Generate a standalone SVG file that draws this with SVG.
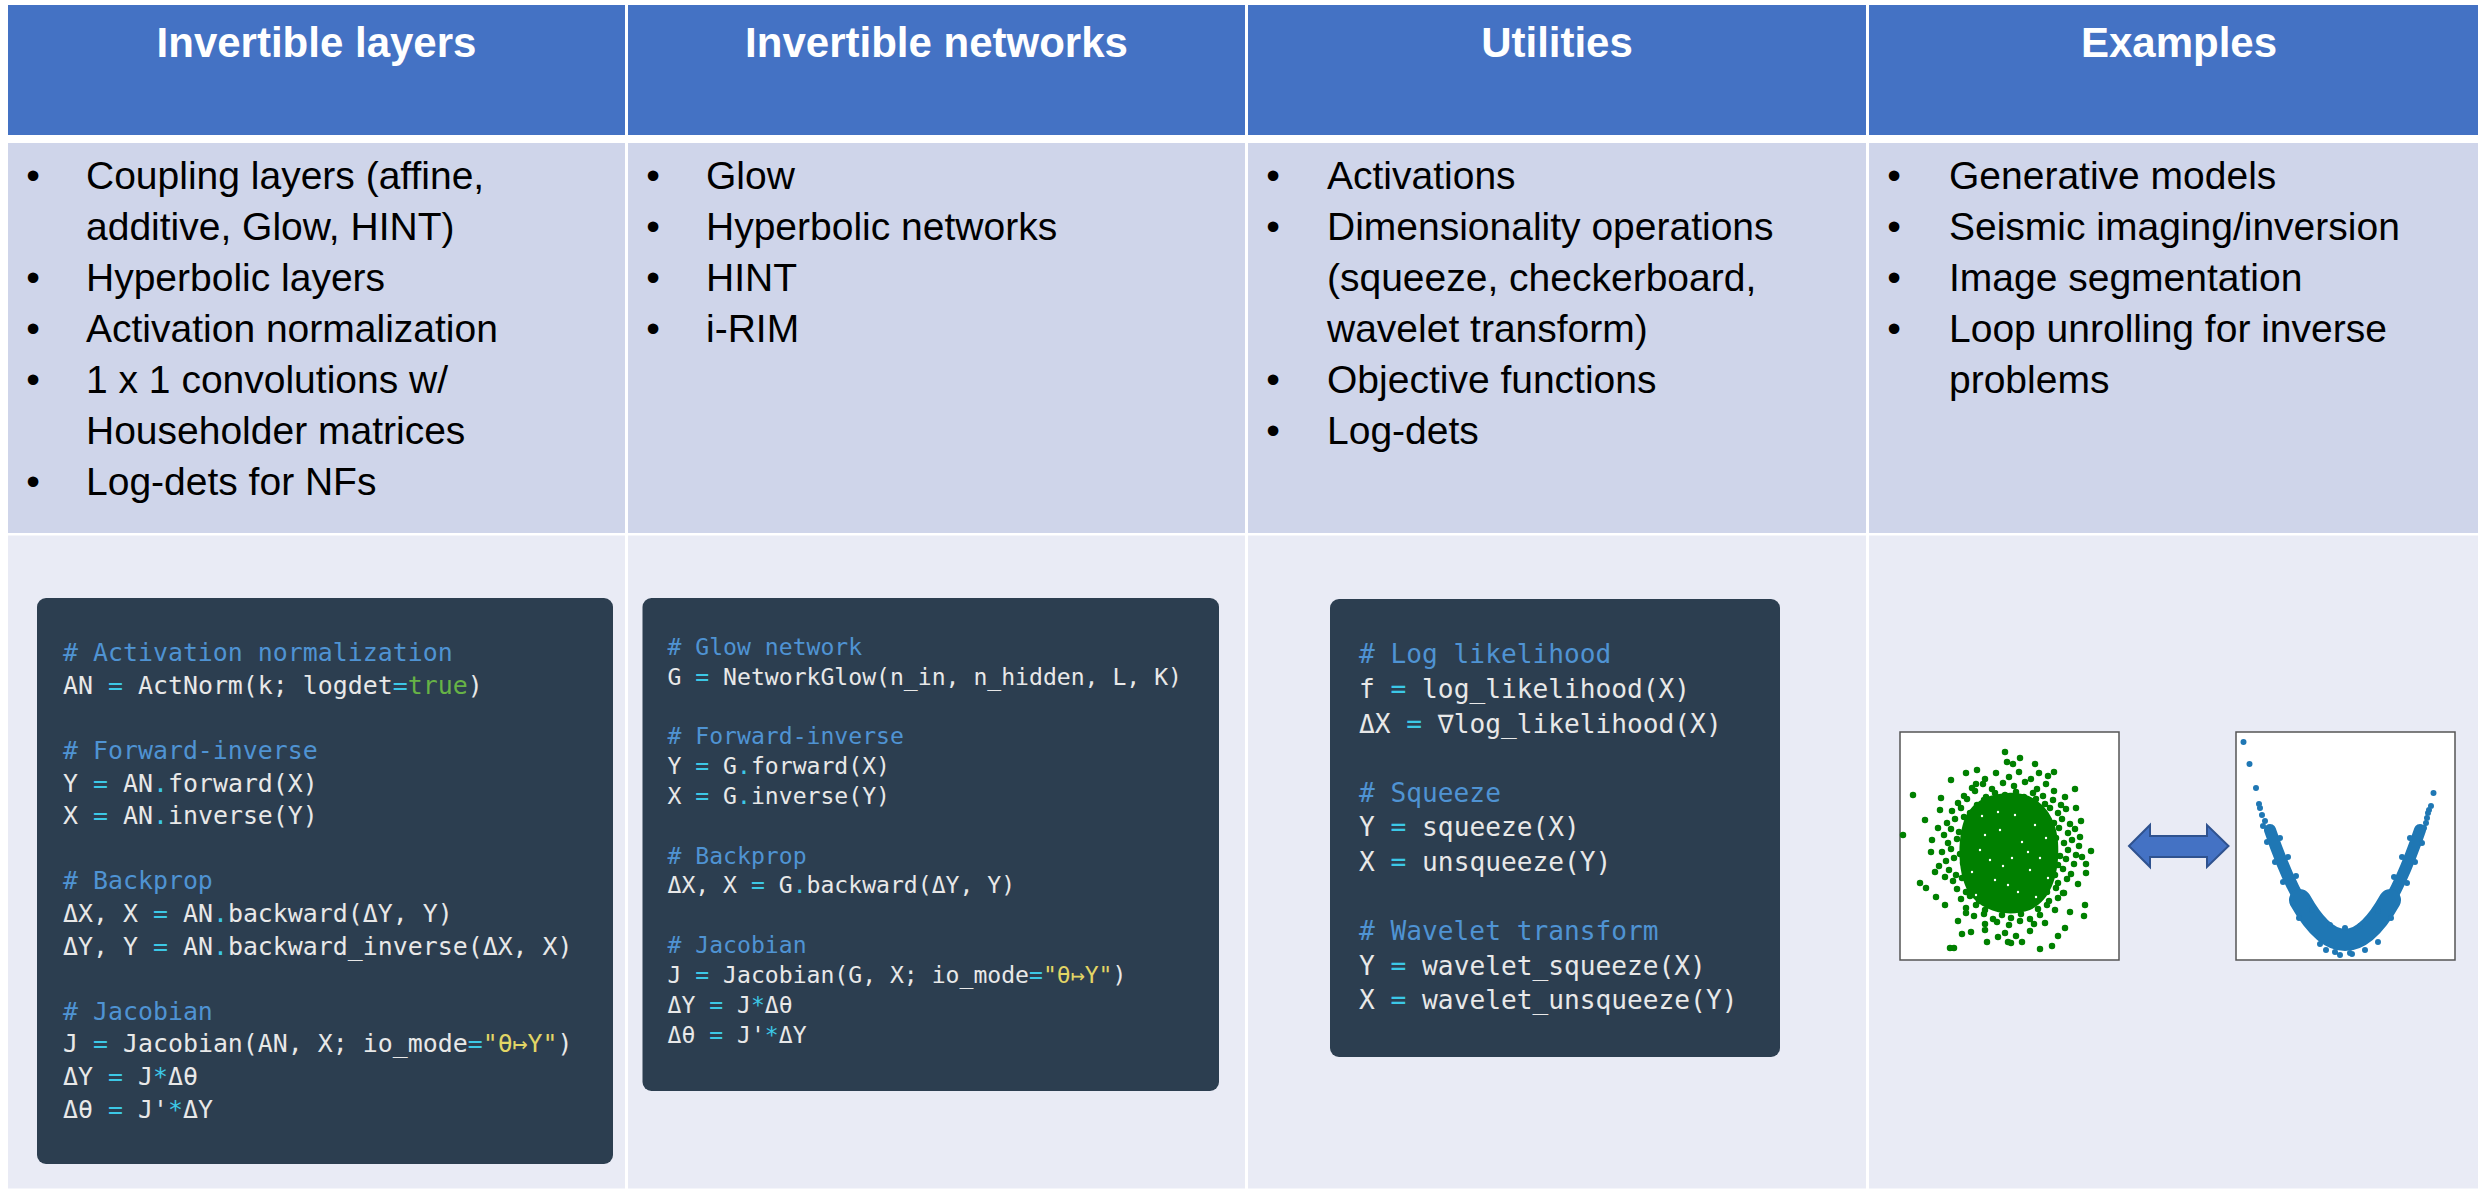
<svg xmlns="http://www.w3.org/2000/svg" width="2478" height="1189" viewBox="0 0 2478 1189">
<style>
.hdr{fill:#4472C4}
.bod{fill:#CFD5EA}
.low{fill:#E9EBF5}
.h{font-family:"Liberation Sans",Arial,sans-serif;font-weight:bold;font-size:42px;fill:#FFFFFF;text-anchor:middle}
.t{font-family:"Liberation Sans",Arial,sans-serif;font-size:39px;fill:#000000}
.b{font-family:"Liberation Sans",Arial,sans-serif;font-size:39px;fill:#000000;text-anchor:middle}
.box{fill:#2C3E50}
.c{font-family:"DejaVu Sans Mono",monospace;fill:#E8E8E8}
.cm{fill:#4F93D3}
.op{fill:#3CC8E6}
.kw{fill:#67B346}
.st{fill:#E2D565}
.frame{fill:#FFFFFF;stroke:#555555;stroke-width:1.5}
.dots{fill:none;stroke-linecap:round}
</style>
<rect width="2478" height="1189" fill="#FFFFFF"/>

<g id="col1">
<rect class="hdr" x="8" y="5" width="617" height="130"/>
<rect class="bod" x="8" y="143" width="617" height="390"/>
<rect class="low" x="8" y="535.5" width="617" height="653"/>
<text class="h" x="316.5" y="57">Invertible layers</text>
<text class="b" x="33" y="189">•</text><text class="t" x="86" y="189">Coupling layers (affine,</text>
<text class="t" x="86" y="240">additive, Glow, HINT)</text>
<text class="b" x="33" y="291">•</text><text class="t" x="86" y="291">Hyperbolic layers</text>
<text class="b" x="33" y="342">•</text><text class="t" x="86" y="342">Activation normalization</text>
<text class="b" x="33" y="393">•</text><text class="t" x="86" y="393">1 x 1 convolutions w/</text>
<text class="t" x="86" y="444">Householder matrices</text>
<text class="b" x="33" y="495">•</text><text class="t" x="86" y="495">Log-dets for NFs</text>
</g>

<g id="col2">
<rect class="hdr" x="628" y="5" width="617" height="130"/>
<rect class="bod" x="628" y="143" width="617" height="390"/>
<rect class="low" x="628" y="535.5" width="617" height="653"/>
<text class="h" x="936.5" y="57">Invertible networks</text>
<text class="b" x="653" y="189">•</text><text class="t" x="706" y="189">Glow</text>
<text class="b" x="653" y="240">•</text><text class="t" x="706" y="240">Hyperbolic networks</text>
<text class="b" x="653" y="291">•</text><text class="t" x="706" y="291">HINT</text>
<text class="b" x="653" y="342">•</text><text class="t" x="706" y="342">i-RIM</text>
</g>

<g id="col3">
<rect class="hdr" x="1248" y="5" width="618" height="130"/>
<rect class="bod" x="1248" y="143" width="618" height="390"/>
<rect class="low" x="1248" y="535.5" width="618" height="653"/>
<text class="h" x="1557" y="57">Utilities</text>
<text class="b" x="1273" y="189">•</text><text class="t" x="1327" y="189">Activations</text>
<text class="b" x="1273" y="240">•</text><text class="t" x="1327" y="240">Dimensionality operations</text>
<text class="t" x="1327" y="291">(squeeze, checkerboard,</text>
<text class="t" x="1327" y="342">wavelet transform)</text>
<text class="b" x="1273" y="393">•</text><text class="t" x="1327" y="393">Objective functions</text>
<text class="b" x="1273" y="444">•</text><text class="t" x="1327" y="444">Log-dets</text>
</g>

<g id="col4">
<rect class="hdr" x="1869" y="5" width="609" height="130"/>
<rect class="bod" x="1869" y="143" width="609" height="390"/>
<rect class="low" x="1869" y="535.5" width="609" height="653"/>
<text class="h" x="2179" y="57">Examples</text>
<text class="b" x="1894" y="189">•</text><text class="t" x="1949" y="189">Generative models</text>
<text class="b" x="1894" y="240">•</text><text class="t" x="1949" y="240">Seismic imaging/inversion</text>
<text class="b" x="1894" y="291">•</text><text class="t" x="1949" y="291">Image segmentation</text>
<text class="b" x="1894" y="342">•</text><text class="t" x="1949" y="342">Loop unrolling for inverse</text>
<text class="t" x="1949" y="393">problems</text>
</g>

<g id="code1">
<rect class="box" x="37" y="598" width="576" height="566" rx="9"/>
<g class="c" font-size="24.9">
<text x="63" y="661.1" class="cm"># Activation normalization</text>
<text x="63" y="693.7">AN <tspan class="op">=</tspan> ActNorm(k; logdet<tspan class="op">=</tspan><tspan class="kw">true</tspan>)</text>
<text x="63" y="758.9" class="cm"># Forward-inverse</text>
<text x="63" y="791.5">Y <tspan class="op">=</tspan> AN<tspan class="op">.</tspan>forward(X)</text>
<text x="63" y="824.1">X <tspan class="op">=</tspan> AN<tspan class="op">.</tspan>inverse(Y)</text>
<text x="63" y="889.3" class="cm"># Backprop</text>
<text x="63" y="921.9">ΔX, X <tspan class="op">=</tspan> AN<tspan class="op">.</tspan>backward(ΔY, Y)</text>
<text x="63" y="954.5">ΔY, Y <tspan class="op">=</tspan> AN<tspan class="op">.</tspan>backward_inverse(ΔX, X)</text>
<text x="63" y="1019.7" class="cm"># Jacobian</text>
<text x="63" y="1052.3">J <tspan class="op">=</tspan> Jacobian(AN, X; io_mode<tspan class="op">=</tspan><tspan class="st">"θ↦Y"</tspan>)</text>
<text x="63" y="1084.9">ΔY <tspan class="op">=</tspan> J<tspan class="op">*</tspan>Δθ</text>
<text x="63" y="1117.5">Δθ <tspan class="op">=</tspan> J'<tspan class="op">*</tspan>ΔY</text>
</g>
</g>

<g id="code2">
<rect class="box" x="642.5" y="598" width="576.5" height="493" rx="9"/>
<g class="c" font-size="23.1">
<text x="667.5" y="654.6" class="cm"># Glow network</text>
<text x="667.5" y="684.5">G <tspan class="op">=</tspan> NetworkGlow(n_in, n_hidden, L, K)</text>
<text x="667.5" y="744.2" class="cm"># Forward-inverse</text>
<text x="667.5" y="774">Y <tspan class="op">=</tspan> G<tspan class="op">.</tspan>forward(X)</text>
<text x="667.5" y="803.9">X <tspan class="op">=</tspan> G<tspan class="op">.</tspan>inverse(Y)</text>
<text x="667.5" y="863.6" class="cm"># Backprop</text>
<text x="667.5" y="893.4">ΔX, X <tspan class="op">=</tspan> G<tspan class="op">.</tspan>backward(ΔY, Y)</text>
<text x="667.5" y="953.1" class="cm"># Jacobian</text>
<text x="667.5" y="983">J <tspan class="op">=</tspan> Jacobian(G, X; io_mode<tspan class="op">=</tspan><tspan class="st">"θ↦Y"</tspan>)</text>
<text x="667.5" y="1012.8">ΔY <tspan class="op">=</tspan> J<tspan class="op">*</tspan>Δθ</text>
<text x="667.5" y="1042.7">Δθ <tspan class="op">=</tspan> J'<tspan class="op">*</tspan>ΔY</text>
</g>
</g>

<g id="code3">
<rect class="box" x="1330" y="599" width="450" height="458" rx="9"/>
<g class="c" font-size="26.2">
<text x="1359" y="663.3" class="cm"># Log likelihood</text>
<text x="1359" y="697.9">f <tspan class="op">=</tspan> log_likelihood(X)</text>
<text x="1359" y="732.5">ΔX <tspan class="op">=</tspan> ∇log_likelihood(X)</text>
<text x="1359" y="801.7" class="cm"># Squeeze</text>
<text x="1359" y="836.3">Y <tspan class="op">=</tspan> squeeze(X)</text>
<text x="1359" y="870.9">X <tspan class="op">=</tspan> unsqueeze(Y)</text>
<text x="1359" y="940.1" class="cm"># Wavelet transform</text>
<text x="1359" y="974.7">Y <tspan class="op">=</tspan> wavelet_squeeze(X)</text>
<text x="1359" y="1009.3">X <tspan class="op">=</tspan> wavelet_unsqueeze(Y)</text>
</g>
</g>

<g id="plot-gaussian">
<rect class="frame" x="1900" y="732" width="219" height="228"/>
<path d="M2008 793C2036 791 2056 812 2058 842C2060 872 2052 900 2030 910C2008 918 1982 912 1969 893C1957 874 1957 838 1965 818C1973 801 1988 794 2008 793Z" fill="#008000"/>
<path class="dots" stroke="#008000" stroke-width="6.5" d="M1985 779h0M1996 773h0M2009 777h0M2019 772h0M2031 779h0M1972 788h0M1983 784h0M1992 789h0M2003 783h0M2014 786h0M2025 782h0M2037 789h0M2046 784h0M1964 796h0M1975 791h0M1986 797h0M1995 793h0M2005 795h0M2016 792h0M2024 797h0M2033 793h0M2043 796h0M2054 791h0M1958 803h0M1967 799h0M1977 805h0M1984 800h0M1993 804h0M2002 801h0M2011 806h0M2019 800h0M2028 805h0M2036 799h0M2045 804h0M2053 800h0M2061 805h0M1952 811h0M1961 808h0M1970 813h0M1980 809h0M1988 812h0M2032 810h0M2041 814h0M2050 808h0M2058 813h0M2066 809h0M1955 819h0M1947 823h0M1964 817h0M1973 822h0M1982 818h0M2038 820h0M2046 816h0M2054 823h0M2062 819h0M2070 824h0M1951 829h0M1944 835h0M1959 832h0M1968 828h0M1976 834h0M2043 830h0M2051 835h0M2059 828h0M2068 833h0M2075 829h0M1948 843h0M1957 839h0M1965 845h0M1973 841h0M2048 844h0M2056 838h0M2064 843h0M2072 840h0M2079 846h0M1942 852h0M1951 849h0M1960 854h0M1968 850h0M2052 852h0M2060 856h0M2068 850h0M2076 855h0M1946 861h0M1954 858h0M1963 863h0M1971 859h0M2050 861h0M2058 865h0M2066 859h0M2074 864h0M1949 870h0M1956 875h0M1965 869h0M1974 873h0M2046 870h0M2055 875h0M2063 869h0M2071 874h0M1953 881h0M1962 878h0M1970 884h0M1979 879h0M2041 882h0M2049 877h0M2058 883h0M2067 879h0M1957 889h0M1966 892h0M1975 887h0M1984 891h0M1992 888h0M2030 890h0M2039 886h0M2047 892h0M2056 888h0M2063 893h0M1961 899h0M1970 896h0M1979 901h0M1988 897h0M1997 900h0M2005 895h0M2013 901h0M2022 897h0M2031 900h0M2040 896h0M2049 901h0M2058 898h0M1966 908h0M1976 905h0M1985 910h0M1994 906h0M2003 909h0M2012 905h0M2020 910h0M2029 906h0M2038 909h0M2047 905h0M2055 910h0M1974 916h0M1984 914h0M1993 919h0M2002 915h0M2011 918h0M2021 914h0M2030 919h0M2040 915h0M1985 924h0M1997 922h0M2009 925h0M2020 921h0M2034 924h0M1913 795h0M1903 835h0M2005 752h0M2020 758h0M2007 762h0M2013 764h0M2035 764h0M1966 773h0M2075 789h0M2091 851h0M2082 857h0M2086 873h0M1920 883h0M1926 888h0M1931 852h0M1936 897h0M2085 905h0M2084 916h0M2065 928h0M1950 948h0M1954 948h0M1987 942h0M2008 942h0M2011 943h0M2022 942h0M2040 949h0M2052 946h0M1971 932h0M1958 921h0M1925 820h0M1941 798h0M1951 780h0M2048 776h0M2065 797h0M2080 837h0M2076 808h0M2064 893h0M2045 923h0M2030 931h0M2005 933h0M1985 930h0M1966 913h0M1945 877h0M1938 828h0M1939 866h0M2039 773h0M1976 784h0M1940 810h0M2081 821h0M1935 872h0M2078 884h0M1945 905h0M2070 912h0M1962 934h0M2058 936h0M1998 937h0M2016 936h0M1977 770h0M2054 772h0M1932 840h0M2086 864h0"/>
<path class="dots" stroke="#FFFFFF" stroke-width="2.4" d="M2000 830h0M2022 842h0M1990 860h0M2030 870h0M2008 885h0M1985 835h0M2035 825h0M2015 815h0M1995 880h0M2012 858h0M2028 852h0M1980 850h0M2040 858h0M2018 892h0M1998 812h0M1972 872h0M2046 838h0M1982 816h0M2036 897h0M2003 866h0M1976 895h0M2048 878h0"/>
</g>

<g id="plot-parabola">
<rect class="frame" x="2236" y="732" width="219" height="228"/>
<path d="M2270 830Q2345 1050.5 2420 830" fill="none" stroke="#1F77B4" stroke-width="12" stroke-linecap="round"/>
<path d="M2300 900Q2345 980 2390 900" fill="none" stroke="#1F77B4" stroke-width="22" stroke-linecap="round"/>
<path class="dots" stroke="#1F77B4" stroke-width="6" d="M2243.5 742h0M2249.5 764h0M2256 788h0M2259 804h0M2260 808h0M2262 815h0M2265 821h0M2263 826h0M2268 830h0M2433.5 793h0M2431 806h0M2429 810h0M2427 818h0M2426 823h0M2424 828h0M2428 813h0M2267 842h0M2280 838h0M2275 862h0M2288 857h0M2283 882h0M2296 876h0M2293 903h0M2306 896h0M2299 918h0M2312 910h0M2320 944h0M2335 952h0M2350 953h0M2365 950h0M2378 942h0M2330 925h0M2345 928h0M2360 926h0M2340 955h0M2352 954h0M2326 950h0M2394 877h0M2407 883h0M2402 857h0M2415 862h0M2410 838h0M2422 843h0M2378 911h0M2391 918h0"/>
</g>

<g id="connectors">
<polygon points="2129,846 2150,825 2150,836 2207,836 2207,825 2228.5,846 2207,867 2207,857 2150,857 2150,867" fill="#4472C4" stroke="#2F528F" stroke-width="2" stroke-linejoin="miter"/>
</g>
</svg>
